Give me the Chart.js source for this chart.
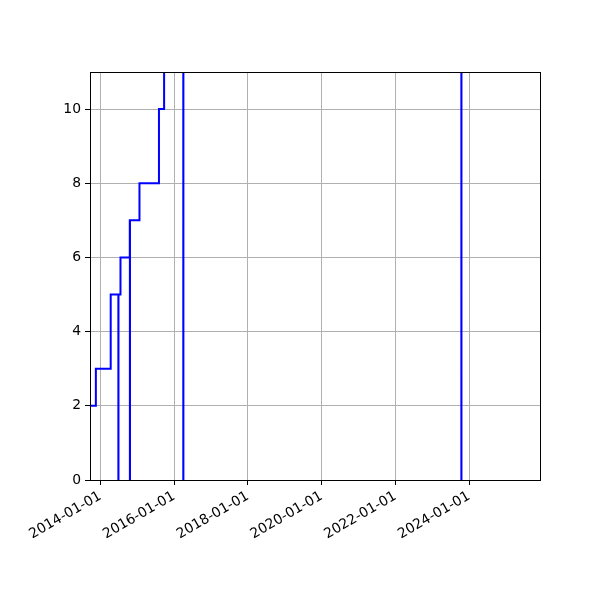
<!DOCTYPE html>
<html>
<head>
<meta charset="utf-8">
<script src="https://cdn.jsdelivr.net/npm/chart.js@4"></script>
<style>
  html, body { margin:0; padding:0; background:#fff; }
  #wrap { width:600px; height:600px; }
</style>
</head>
<body>
<div id="wrap"><canvas id="chart" width="600" height="600"></canvas></div>
<script>
// step series: value holds until the next date (steps-post)
const stepDates = ['2013-08-01','2013-11-17','2014-04-13','2014-06-28','2014-06-29','2014-07-19',
  '2014-10-19','2014-10-20','2014-10-21','2015-01-23','2015-08-04','2015-09-24',
  '2016-04-01','2016-04-02','2023-10-16','2023-10-17','2026-01-01'];
const stepValues = [2, 3, 5, -1, 5, 6, 7, -1, 7, 8, 10, 12, -1, 12, -1, 12, 12];

// axes
const xRange = ['2013-09-20','2025-12-03'];
const xTickDates = ['2014-01-01','2016-01-01','2018-01-01','2020-01-01','2022-01-01','2024-01-01'];
const yRange = [0, 11];
const yTicks = [0, 2, 4, 6, 8, 10];

const ms = d => Date.parse(d + 'T00:00:00Z');
const fmtDate = v => new Date(v).toISOString().slice(0, 10);

const points = stepDates.map((d, i) => ({ x: ms(d), y: stepValues[i] }));

// draws the box round the plot area like matplotlib spines
const frame = {
  id: 'frame',
  afterDraw(chart) {
    const a = chart.chartArea, c = chart.ctx;
    c.save();
    c.strokeStyle = '#000';
    c.lineWidth = 1;
    c.strokeRect(Math.round(a.left) + 0.5, Math.round(a.top) + 0.5,
                 Math.round(a.right - a.left), Math.round(a.bottom - a.top));
    c.restore();
  }
};

const font = { family: 'DejaVu Sans', size: 13.9 };

new Chart(document.getElementById('chart').getContext('2d'), {
  type: 'line',
  data: {
    datasets: [{
      data: points,
      stepped: true,
      borderColor: '#0000ff',
      borderWidth: 2,
      pointRadius: 0,
      fill: false
    }]
  },
  options: {
    responsive: false,
    animation: false,
    events: [],
    layout: { padding: { top: 72, right: 60, left: 0, bottom: 0 } },
    plugins: { legend: { display: false }, tooltip: { enabled: false } },
    scales: {
      x: {
        type: 'linear',
        min: ms(xRange[0]),
        max: ms(xRange[1]),
        afterBuildTicks: s => { s.ticks = xTickDates.map(d => ({ value: ms(d) })); },
        afterFit: s => { s.height = 120; },
        grid: { color: '#b0b0b0', lineWidth: 1, tickColor: '#000', tickLength: 5 },
        border: { display: false },
        ticks: {
          color: '#000', font, padding: 3,
          minRotation: 30, maxRotation: 30, autoSkip: false,
          callback: v => fmtDate(v)
        }
      },
      y: {
        min: yRange[0],
        max: yRange[1],
        afterBuildTicks: s => { s.ticks = yTicks.map(v => ({ value: v })); },
        afterFit: s => { s.width = 90; },
        grid: { color: '#b0b0b0', lineWidth: 1, tickColor: '#000', tickLength: 5 },
        border: { display: false },
        ticks: { color: '#000', font, padding: 4 }
      }
    }
  },
  plugins: [frame]
});
</script>
</body>
</html>
